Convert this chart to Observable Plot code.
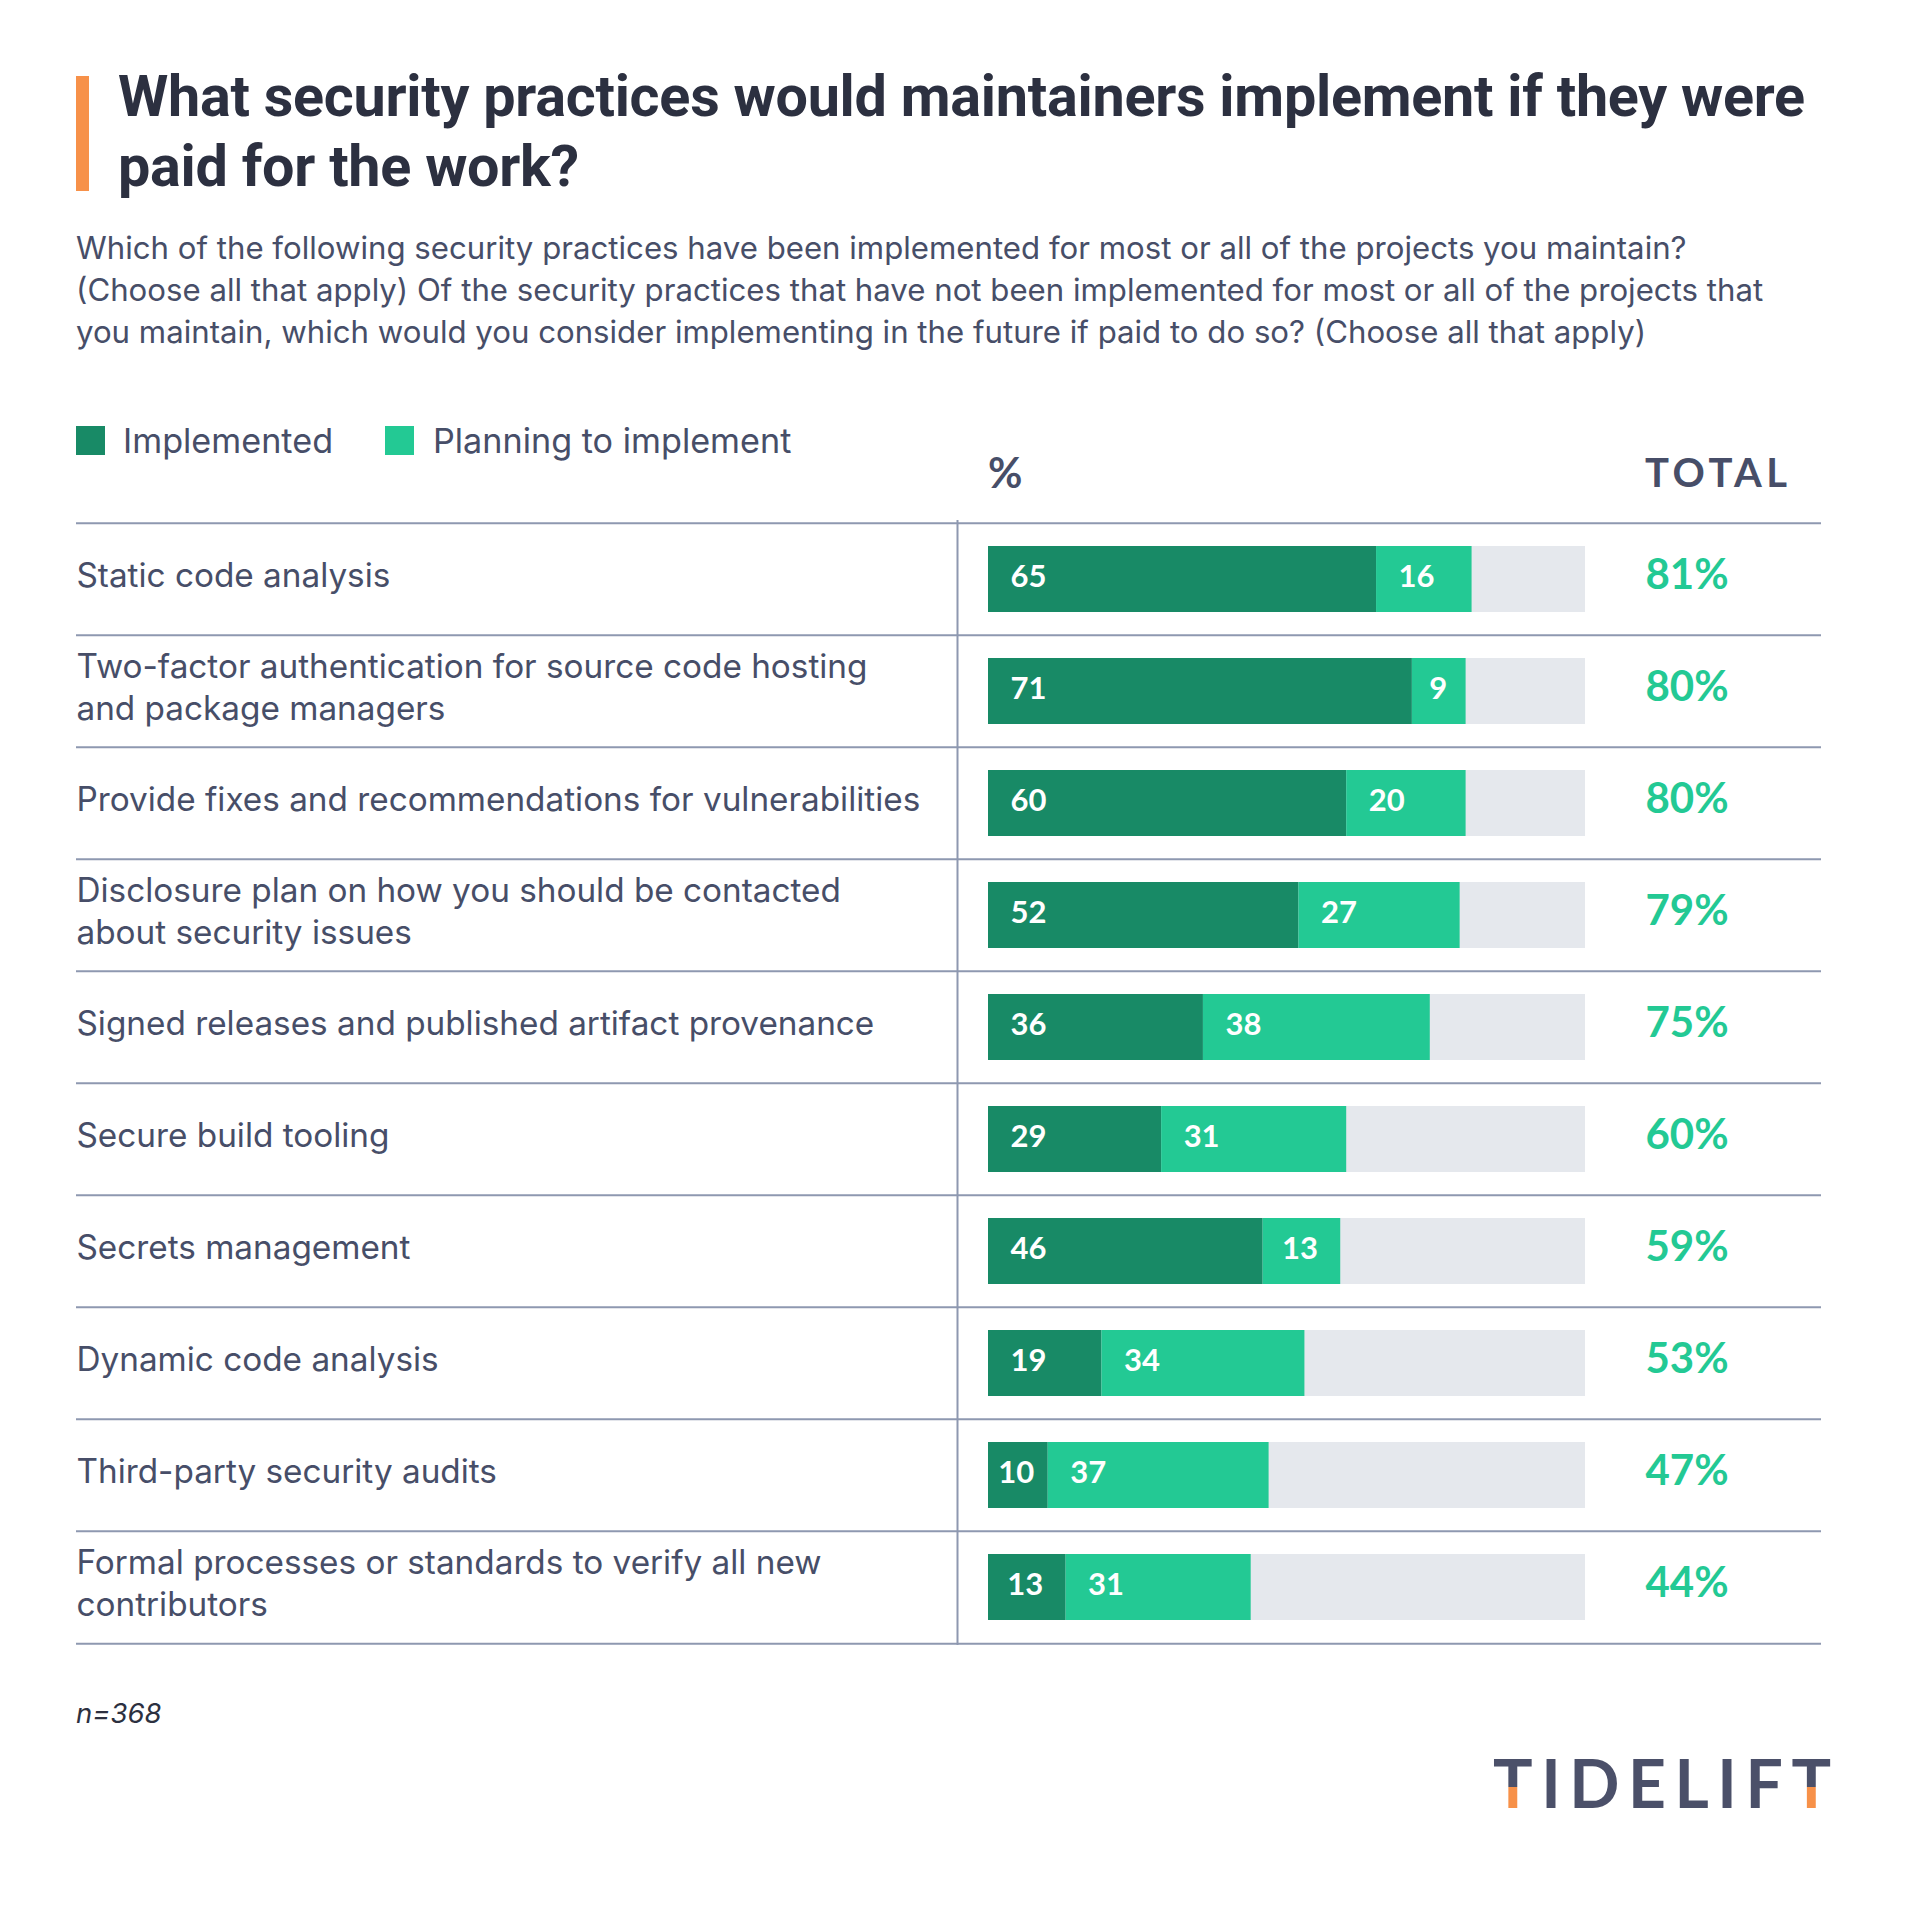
<!DOCTYPE html>
<html>
<head>
<meta charset="utf-8">
<script src="https://cdn.jsdelivr.net/npm/d3@7"></script>
<script src="https://cdn.jsdelivr.net/npm/@observablehq/plot@0.6"></script>
<style>
  html, body { margin: 0; padding: 0; background: #ffffff; }
  body { width: 1929px; height: 1908px; position: relative; overflow: hidden; font-family: Inter, Roboto, "Noto Sans", sans-serif; color: #474e68; }
  .abs { position: absolute; white-space: nowrap; }
  #accent { left: 76px; top: 76px; width: 13px; height: 115px; background: #f79149; }
  #title { left: 118px; top: 62px; font-family: Roboto, sans-serif; font-size: 57.5px; line-height: 70px; font-weight: 700; color: #2c3040; letter-spacing: -0.25px; }
  #subtitle { left: 76px; top: 227px; font-size: 31.2px; line-height: 42px; color: #474e68; }
  .sw { position: absolute; width: 29px; height: 29px; top: 426px; }
  .lg { top: 421px; font-size: 34.2px; line-height: 40px; color: #474e68; }
  .hdr { top: 450px; font-size: 40px; line-height: 44px; font-weight: 700; color: #474e68; font-family: Lato, Roboto, sans-serif; }
  #note { left: 76px; top: 1696px; font-size: 27.5px; font-style: italic; color: #2c3040; }
  #chart { position: absolute; left: 0; top: 496px; }
  #logo { position: absolute; left: 1480px; top: 1740px; }
</style>
</head>
<body>
<div id="accent" class="abs"></div>
<div id="title" class="abs"></div>
<div id="subtitle" class="abs"></div>
<div id="legend"></div>
<div id="pct" class="abs hdr" style="left:988px; font-size:42px;">%</div>
<div id="tot" class="abs hdr" style="left:1645px; letter-spacing:4.5px;">TOTAL</div>
<div id="chart"></div>
<div id="note" class="abs">n=368</div>
<svg id="logo" width="380" height="90" xmlns="http://www.w3.org/2000/svg">
  <defs>
    <linearGradient id="tgrad" gradientUnits="userSpaceOnUse" x1="0" y1="0" x2="0" y2="90">
      <stop offset="0.52" stop-color="#4b5069"></stop>
      <stop offset="0.52" stop-color="#f79149"></stop>
    </linearGradient>
  </defs>
  <text x="13" y="68" font-family="Lato, Roboto, sans-serif" font-weight="700" font-size="66" fill="#4b5069" textLength="338" lengthAdjust="spacing"><tspan fill="url(#tgrad)">T</tspan>IDELIF<tspan fill="url(#tgrad)">T</tspan></text>
</svg>
<script>
// ---- Text ----
const titleLines = [
  "What security practices would maintainers implement if they were",
  "paid for the work?"
];
const subtitleLines = [
  "Which of the following security practices have been implemented for most or all of the projects you maintain?",
  "(Choose all that apply) Of the security practices that have not been implemented for most or all of the projects that",
  "you maintain, which would you consider implementing in the future if paid to do so? (Choose all that apply)"
];

// ---- Data ----
const practices = [
  "Static code analysis",
  "Two-factor authentication for source code hosting\nand package managers",
  "Provide fixes and recommendations for vulnerabilities",
  "Disclosure plan on how you should be contacted\nabout security issues",
  "Signed releases and published artifact provenance",
  "Secure build tooling",
  "Secrets management",
  "Dynamic code analysis",
  "Third-party security audits",
  "Formal processes or standards to verify all new\ncontributors"
];
const implemented = [65, 71, 60, 52, 36, 29, 46, 19, 10, 13];
const planning    = [16, 9, 20, 27, 38, 31, 13, 34, 37, 31];
const totals      = [81, 80, 80, 79, 75, 60, 59, 53, 47, 44];
const seriesNames = ["Implemented", "Planning to implement"];
const seriesColors = ["#188a66", "#23c994"];

// ---- Header HTML ----
document.getElementById("title").innerHTML = titleLines.join("<br>");
document.getElementById("subtitle").innerHTML = subtitleLines.join("<br>");
const legend = document.getElementById("legend");
const legendX = [[76, 123], [385, 433]];
seriesNames.forEach((s, i) => {
  const sw = document.createElement("div");
  sw.className = "sw";
  sw.style.left = legendX[i][0] + "px";
  sw.style.background = seriesColors[i];
  legend.appendChild(sw);
  const t = document.createElement("div");
  t.className = "abs lg";
  t.style.left = legendX[i][1] + "px";
  t.textContent = s;
  legend.appendChild(t);
});

// ---- Build tables ----
const rows = practices.map((p, i) => ({practice: p, total: totals[i]}));
const segments = [];
practices.forEach((p, i) => {
  segments.push({practice: p, series: seriesNames[0], start: 0, end: implemented[i], value: implemented[i]});
  segments.push({practice: p, series: seriesNames[1], start: implemented[i], end: implemented[i] + planning[i], value: planning[i]});
});

// ---- Layout ----
const W = 1929;
const xRange = [988, 1585];
const marginTop = 24, marginBottom = 10;
const tableH = 1125;
const H = marginTop + tableH + marginBottom;
const bandW = tableH / practices.length;
const barInset = 23;
const pxPerUnit = (xRange[1] - xRange[0]) / 100;
const labelPad = 22;       // px
const digitW = 20;          // px, approx width of one label digit
const labelX = d => {
  const segPx = d.value * pxPerUnit;
  const tw = String(d.value).length * digitW;
  const off = Math.min(labelPad, (segPx - tw) / 2);
  return d.start + off / pxPerUnit;
};
const lineColor = "#8e98b0";

const chart = Plot.plot({
  width: W,
  height: H,
  marginTop, marginBottom,
  marginLeft: 76,
  marginRight: W - 1821,
  style: {background: "transparent", overflow: "visible"},
  x: {domain: [0, 100], range: xRange, axis: null},
  y: {type: "band", domain: practices, padding: 0, axis: null},
  color: {domain: seriesNames, range: seriesColors},
  marks: [
    Plot.barX(rows, {x1: () => 0, x2: () => 100, y: "practice", fill: "#e5e8ed", insetTop: barInset, insetBottom: barInset}),
    Plot.barX(segments, {x1: "start", x2: "end", y: "practice", fill: "series", insetTop: barInset, insetBottom: barInset}),
    Plot.text(segments, {x: labelX, y: "practice", text: d => String(d.value), textAnchor: "start", fill: "white",
      fontWeight: 700, fontSize: 31, fontFamily: "Lato, Roboto, sans-serif", style: "letter-spacing:3.5px", dy: -2}),
    Plot.text(rows, {y: "practice", frameAnchor: "left", text: "practice", textAnchor: "start", lineAnchor: "middle",
      fill: "#474e68", fontSize: 33.3, lineHeight: 1.25, fontFamily: "Inter, Roboto, sans-serif", dy: -6}),
    Plot.text(rows, {x: () => 100, dx: 60, y: "practice", text: d => d.total + "%", textAnchor: "start", fill: "#23c994",
      fontWeight: 700, fontSize: 42, fontFamily: "Lato, Roboto, sans-serif",
      style: "letter-spacing:1.5px; font-variant-numeric: proportional-nums", dy: -4}),
    Plot.ruleY(rows, {y: "practice", dy: -bandW / 2, stroke: lineColor, strokeWidth: 2}),
    Plot.ruleY(rows.slice(-1), {y: "practice", dy: bandW / 2, stroke: lineColor, strokeWidth: 2}),
    Plot.ruleX([0], {dx: -31, stroke: lineColor, strokeWidth: 2})
  ]
});
document.getElementById("chart").appendChild(chart);
</script>
</body>
</html>
